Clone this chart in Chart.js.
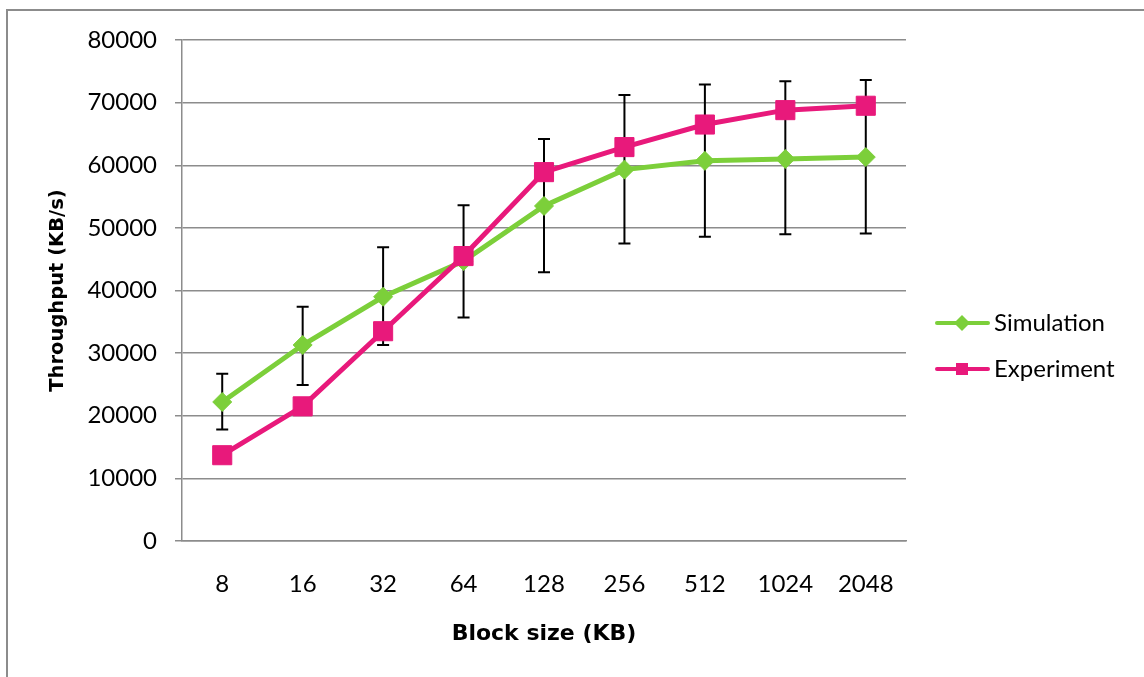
<!DOCTYPE html>
<html>
<head>
<meta charset="utf-8">
<title>Throughput vs block size</title>
<script src="https://cdn.jsdelivr.net/npm/chart.js@4.4.1/dist/chart.umd.min.js"></script>
<style>
  html, body { margin: 0; padding: 0; background: #fff; }
  #wrap { position: relative; width: 1144px; height: 677px; overflow: hidden; }
  #frame {
    position: absolute; left: 6px; top: 9px; width: 1300px; height: 800px;
    border-left: 2px solid #8c8c8c; border-top: 2px solid #8c8c8c;
  }
  #chart { position: absolute; left: 0; top: 0; }
</style>
</head>
<body>
<div id="wrap">
  <div id="frame"></div>
  <canvas id="chart" width="1144" height="677"></canvas>
</div>
<script>
const blockSizes = ["8", "16", "32", "64", "128", "256", "512", "1024", "2048"];
const simulation = [22200, 31300, 39000, 44700, 53500, 59300, 60700, 61000, 61300];
const experiment = [13700, 21500, 33500, 45500, 58900, 62900, 66500, 68800, 69500];
// error bar ends on the simulation series
const simLow = [17800, 24900, 31300, 35700, 42900, 47500, 48600, 49000, 49100];
const simHigh = [26700, 37400, 46900, 53600, 64200, 71200, 72900, 73400, 73600];
const yMin = 0;
const yMax = 80000;
const yStep = 10000;

const GREEN = "#7ccf3a";
const PINK = "#e8197b";
const GRID = "#8c8c8c";
const FONT = "Lato, 'Open Sans', sans-serif";
const BOLD = "'DejaVu Sans', sans-serif";

Chart.defaults.color = "#000";
Chart.defaults.font.family = FONT;

const errorBars = {
  id: "errorBars",
  beforeDatasetsDraw(chart) {
    const { ctx, scales: { x, y } } = chart;
    ctx.save();
    ctx.strokeStyle = "#000";
    ctx.lineWidth = 2;
    simLow.forEach((lo, i) => {
      const px = x.getPixelForValue(i);
      const top = y.getPixelForValue(simHigh[i]);
      const bot = y.getPixelForValue(lo);
      ctx.beginPath();
      ctx.moveTo(px, top); ctx.lineTo(px, bot);
      ctx.moveTo(px - 6, top); ctx.lineTo(px + 6, top);
      ctx.moveTo(px - 6, bot); ctx.lineTo(px + 6, bot);
      ctx.stroke();
    });
    ctx.restore();
  }
};

// line + marker legend on the right
const sideLegend = {
  id: "sideLegend",
  afterDraw(chart) {
    const { ctx } = chart;
    const rows = [323, 369];
    ctx.save();
    chart.data.datasets.forEach((ds, i) => {
      const yy = rows[i];
      ctx.strokeStyle = ds.borderColor;
      ctx.fillStyle = ds.borderColor;
      ctx.lineWidth = 4;
      ctx.lineCap = "round";
      ctx.beginPath();
      ctx.moveTo(937, yy); ctx.lineTo(988, yy);
      ctx.stroke();
      const cx = 962;
      ctx.beginPath();
      if (ds.pointStyle === "rectRot") {
        ctx.moveTo(cx, yy - 8); ctx.lineTo(cx + 8, yy);
        ctx.lineTo(cx, yy + 8); ctx.lineTo(cx - 8, yy);
        ctx.closePath();
      } else {
        ctx.rect(cx - 6, yy - 6, 12, 12);
      }
      ctx.fill();
      ctx.fillStyle = "#000";
      ctx.font = "24px " + FONT;
      ctx.textBaseline = "middle";
      ctx.textAlign = "left";
      ctx.fillText(ds.label, 994, yy);
    });
    ctx.restore();
  }
};

new Chart(document.getElementById("chart"), {
  type: "line",
  data: {
    labels: blockSizes,
    datasets: [
      {
        label: "Simulation",
        data: simulation,
        borderColor: GREEN,
        backgroundColor: GREEN,
        borderWidth: 5,
        pointStyle: "rectRot",
        pointRadius: 9.5,
        pointBorderWidth: 1,
        tension: 0,
        order: 2
      },
      {
        label: "Experiment",
        data: experiment,
        borderColor: PINK,
        backgroundColor: PINK,
        borderWidth: 5,
        pointStyle: "rect",
        pointRadius: 13.5,
        pointBorderWidth: 1,
        tension: 0,
        order: 1
      }
    ]
  },
  options: {
    responsive: false,
    animation: false,
    layout: { padding: { top: 40, right: 238, bottom: 0, left: 0 } },
    plugins: {
      legend: { display: false },
      tooltip: { enabled: false }
    },
    scales: {
      x: {
        offset: true,
        grid: { display: false, drawTicks: false, offset: true },
        border: { display: true, color: GRID, width: 1.5 },
        ticks: { font: { size: 24 }, padding: 29, maxRotation: 0 },
        title: {
          display: true,
          text: "Block size (KB)",
          font: { family: BOLD, size: 22, weight: "bold" },
          padding: { top: 0, bottom: 30 }
        },
        afterFit(scale) { scale.height = 136; }
      },
      y: {
        min: yMin,
        max: yMax,
        ticks: {
          stepSize: yStep,
          font: { size: 24 },
          padding: 18,
          callback: (v) => String(v)
        },
        grid: { color: GRID, lineWidth: 1.5, tickLength: 7 },
        border: { display: true, color: GRID, width: 1.5 },
        title: {
          display: true,
          text: "Throughput (KB/s)",
          font: { family: BOLD, size: 19.5, weight: "bold" },
          padding: { top: 46, bottom: 0 }
        },
        afterFit(scale) { scale.width = 182; }
      }
    }
  },
  plugins: [errorBars, sideLegend]
});
</script>
</body>
</html>
